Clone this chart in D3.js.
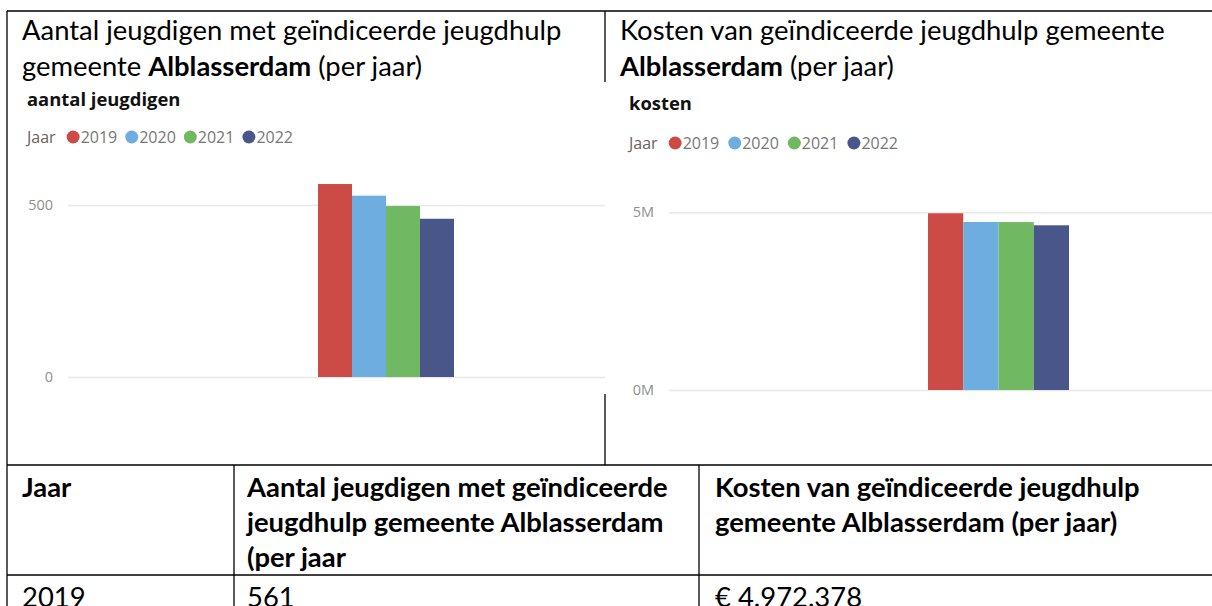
<!DOCTYPE html>
<html>
<head>
<meta charset="utf-8">
<script src="https://cdn.jsdelivr.net/npm/d3@7"></script>
<style>
  body { margin: 0; background: #fff; }
  svg { display: block; }
</style>
</head>
<body>
<svg id="page" width="1212" height="606"></svg>
<script>
// Data
const years = ["2019", "2020", "2021", "2022"];
const aantal = [561, 527, 497, 460];
const kosten = [4972378, 4727000, 4725000, 4634000];
const colors = ["#CD4B47", "#6EADE0", "#70B862", "#48568A"];
const aantalTicks = [0, 500];
const kostenTicks = [0, 5000000];

const svg = d3.select("#page");
const titleFont = "Lato, Carlito, sans-serif";
const chartFont = "'Open Sans', 'Noto Sans', sans-serif";

const nl = d3.formatLocale({ decimal: ",", thousands: ".", grouping: [3], currency: ["€ ", ""] });

// Table / frame lines
const frame = svg.append("g").attr("stroke", "#000").attr("stroke-width", 1.3);
function line(x1, y1, x2, y2) {
  frame.append("line").attr("x1", x1).attr("y1", y1).attr("x2", x2).attr("y2", y2);
}
line(7, 11, 1212, 11);
line(7, 11, 7, 606);
line(605, 11, 605, 82);
line(605, 394, 605, 465);
line(7, 465, 1212, 465);
line(7, 575, 1212, 575);
line(234, 465, 234, 606);
line(699, 465, 699, 606);

// Cell titles
function title(x, lines) {
  const t = svg.append("text")
    .attr("x", x)
    .attr("font-family", titleFont)
    .attr("font-size", 27.4)
    .attr("fill", "#000");
  lines.forEach((parts, i) => {
    parts.forEach((p, j) => {
      const ts = t.append("tspan").text(p.t).attr("font-weight", p.b ? "bold" : "normal");
      if (j === 0) ts.attr("x", x).attr("y", 40 + i * 36);
    });
  });
}
title(22, [
  [{ t: "Aantal jeugdigen met geïndiceerde jeugdhulp" }],
  [{ t: "gemeente " }, { t: "Alblasserdam", b: true }, { t: " (per jaar)" }]
]);
title(620, [
  [{ t: "Kosten van geïndiceerde jeugdhulp gemeente" }],
  [{ t: "Alblasserdam", b: true }, { t: " (per jaar)" }]
]);

// Bar chart
function barChart(opt) {
  const g = svg.append("g");

  g.append("text")
    .attr("x", opt.left)
    .attr("y", opt.titleY)
    .attr("font-family", chartFont)
    .attr("font-size", 18.4)
    .attr("font-weight", "bold")
    .attr("fill", "#111")
    .text(opt.title);

  // legend
  const leg = g.append("g").attr("font-family", chartFont).attr("font-size", 16);
  const jaar = leg.append("text")
    .attr("x", opt.left)
    .attr("y", opt.legendY)
    .attr("dy", "0.35em")
    .attr("fill", "#6b625c")
    .text("Jaar");
  let lx = opt.left + jaar.node().getComputedTextLength() + 11;
  years.forEach((yr, i) => {
    leg.append("circle")
      .attr("cx", lx + 6.5)
      .attr("cy", opt.legendY)
      .attr("r", 6.5)
      .attr("fill", colors[i]);
    const t = leg.append("text")
      .attr("x", lx + 14)
      .attr("y", opt.legendY)
      .attr("dy", "0.35em")
      .attr("fill", "#777")
      .text(yr);
    lx += 14 + t.node().getComputedTextLength() + opt.legendGap;
  });

  const y = d3.scaleLinear().domain(opt.yDomain).range(opt.yRange);
  const x0 = d3.scaleBand().domain(["Alblasserdam"]).range(opt.xRange);
  const x1 = d3.scaleBand().domain(years).range([0, x0.bandwidth()]);

  // grid
  const axis = d3.axisLeft(y).tickValues(opt.ticks).tickFormat(opt.fmt)
    .tickSize(-(opt.gridRight - opt.gridLeft)).tickPadding(15);
  const ax = g.append("g")
    .attr("transform", `translate(${opt.gridLeft},0)`)
    .call(axis);
  ax.select(".domain").remove();
  ax.selectAll(".tick line").attr("stroke", "#e8e8e8").attr("stroke-width", 1.5);
  ax.selectAll(".tick text")
    .attr("fill", "#8f8f8f")
    .attr("font-family", chartFont)
    .attr("font-size", 14.5);

  g.append("g").selectAll("rect")
    .data(opt.values)
    .join("rect")
    .attr("x", (d, i) => x0("Alblasserdam") + x1(years[i]))
    .attr("width", x1.bandwidth())
    .attr("y", d => y(d))
    .attr("height", d => y(0) - y(d))
    .attr("fill", (d, i) => colors[i]);
}

barChart({
  title: "aantal jeugdigen",
  left: 27, titleY: 106, legendY: 137, legendGap: 8,
  values: aantal, ticks: aantalTicks, fmt: d3.format("d"),
  yDomain: [0, 500], yRange: [377, 205],
  xRange: [318, 454], gridLeft: 68, gridRight: 605
});

barChart({
  title: "kosten",
  left: 629, titleY: 110, legendY: 143, legendGap: 9,
  values: kosten, ticks: kostenTicks, fmt: d => (d / 1e6) + "M",
  yDomain: [0, 5000000], yRange: [390, 212.3],
  xRange: [928, 1069], gridLeft: 669, gridRight: 1212
});

// Table content
const tbl = svg.append("g")
  .attr("font-family", titleFont)
  .attr("font-size", 27.4)
  .attr("fill", "#000");
function cell(x, y0, lines, bold) {
  const t = tbl.append("text").attr("font-weight", bold ? "bold" : "normal");
  lines.forEach((s, i) => t.append("tspan").attr("x", x).attr("y", y0 + i * 35).text(s));
}
cell(22, 497, ["Jaar"], true);
cell(247, 497, ["Aantal jeugdigen met geïndiceerde", "jeugdhulp gemeente Alblasserdam", "(per jaar"], true);
cell(715, 497, ["Kosten van geïndiceerde jeugdhulp", "gemeente Alblasserdam (per jaar)"], true);
cell(22, 607, [years[0]], false);
cell(247, 607, [String(aantal[0])], false);
cell(715, 607, [nl.format("$,d")(kosten[0])], false);
</script>
</body>
</html>
